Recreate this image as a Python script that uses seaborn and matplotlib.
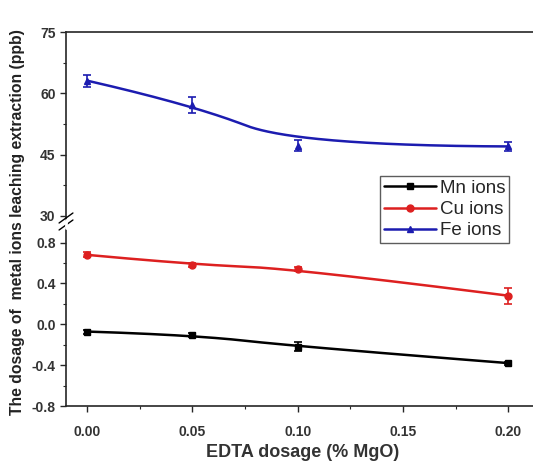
import numpy as np
import pandas as pd
import matplotlib
matplotlib.use("Agg")
import matplotlib.pyplot as plt
import seaborn as sns

# EDTA dosage (% MgO)
dosage = [0.00, 0.05, 0.10, 0.20]

# leaching extraction (ppb)
mn_vals = [-0.071, -0.104, -0.218, -0.38]
mn_err = [0.02, 0.02, 0.04, 0.015]
cu_vals = [0.68, 0.585, 0.543, 0.28]
cu_err = [0.025, 0.02, 0.02, 0.08]
fe_vals = [63.1, 57.2, 47.2, 47.0]
fe_err = [1.5, 2.0, 1.3, 1.2]

labels = ["Mn ions", "Cu ions", "Fe ions"]
colors = ["black", "#dd2020", "#1c1cb0"]
markers = ["s", "o", "^"]


def bspline2(xs, ys, n=100):
    # quadratic clamped B-spline with the data points as control points
    p = np.column_stack([xs, ys]).astype(float)
    mids = (p[1:-1][:-1] + p[1:-1][1:]) / 2
    starts = np.vstack([p[:1], mids])
    ends = np.vstack([mids, p[-1:]])
    ctrl = p[1:-1]
    t = np.linspace(0, 1, n)[:, None]
    parts = []
    for a, c, b in zip(starts, ctrl, ends):
        parts.append((1 - t) ** 2 * a + 2 * (1 - t) * t * c + t**2 * b)
    pts = np.vstack(parts)
    return pd.DataFrame({"x": pts[:, 0], "y": pts[:, 1]})


sns.set_style("ticks")
plt.rcParams["font.family"] = ["Liberation Sans", "DejaVu Sans"]
plt.rcParams["font.weight"] = "bold"

fig = plt.figure(figsize=(5.33, 4.62), dpi=100)
left = 66 / 533
width = 474 / 533
ax_top = fig.add_axes([left, 242 / 462, width, 188 / 462])
ax_bot = fig.add_axes([left, 56 / 462, width, 178 / 462])

xlim = (-0.01, 0.215)
series = [(mn_vals, mn_err, ax_bot), (cu_vals, cu_err, ax_bot), (fe_vals, fe_err, ax_top)]
handles = []
for (vals, err, ax), lab, c, m in zip(series, labels, colors, markers):
    curve = bspline2(dosage, vals)
    sns.lineplot(data=curve, x="x", y="y", ax=ax, color=c, lw=1.8, sort=False)
    ax.errorbar(dosage, vals, yerr=err, fmt=m, color=c, ms=5, capsize=3,
                elinewidth=1.2, capthick=1.2)
    handles.append(plt.Line2D([], [], color=c, marker=m, ms=5, lw=1.8, label=lab))

tick_kw = dict(direction="out", labelsize=10, labelcolor="#333333", width=1.0, length=4)
for ax in (ax_top, ax_bot):
    ax.set_xlim(*xlim)
    ax.set_xlabel("")
    ax.set_ylabel("")
    ax.spines["right"].set_visible(False)
    for s in ax.spines.values():
        s.set_linewidth(1.2)
    ax.tick_params(axis="both", which="major", **tick_kw)
    ax.tick_params(axis="both", which="minor", direction="out", length=2.5, width=0.8)

ax_top.set_ylim(29, 75)
ax_top.set_yticks([30, 45, 60, 75])
ax_top.set_yticks([37.5, 52.5, 67.5], minor=True)
ax_top.spines["bottom"].set_visible(False)
ax_top.tick_params(axis="x", which="both", bottom=False, labelbottom=False)

ax_bot.set_ylim(-0.8, 0.943)
ax_bot.set_yticks([-0.8, -0.4, 0.0, 0.4, 0.8])
ax_bot.set_yticklabels(["-0.8", "-0.4", "0.0", "0.4", "0.8"])
ax_bot.set_yticks([-0.6, -0.2, 0.2, 0.6], minor=True)
ax_bot.spines["top"].set_visible(False)
ax_bot.set_xticks([0.00, 0.05, 0.10, 0.15, 0.20])
ax_bot.set_xticklabels(["0.00", "0.05", "0.10", "0.15", "0.20"])
ax_bot.set_xticks([0.025, 0.075, 0.125, 0.175], minor=True)
ax_bot.tick_params(axis="x", pad=10)

# axis break marks on the left spine
for yy in (218, 225):
    fig.add_artist(plt.Line2D([left - 0.013, left + 0.013],
                              [(462 - yy - 5) / 462, (462 - yy + 5) / 462],
                              color="black", lw=1.0))
fig.add_artist(plt.Line2D([left, left], [(462 - 228) / 462, (462 - 220) / 462],
                          color="white", lw=2.0))

ax_bot.set_xlabel("EDTA dosage (% MgO)", fontsize=13, fontweight="bold",
                  color="#333333", labelpad=3)
fig.text(0.032, 0.52, "The dosage of  metal ions leaching extraction (ppb)",
         rotation=90, ha="center", va="center", fontsize=11.3,
         fontweight="bold", color="#222222")

fig.legend(handles=handles, loc="upper left", bbox_to_anchor=(380 / 533, 1 - 176 / 462),
           frameon=True, fancybox=False, edgecolor="#333333",
           handlelength=2.8, handletextpad=0.2, borderpad=0.2, labelspacing=0.22,
           borderaxespad=0, prop={"size": 13.5, "weight": "normal"})

fig.savefig("out.png", dpi=100)
